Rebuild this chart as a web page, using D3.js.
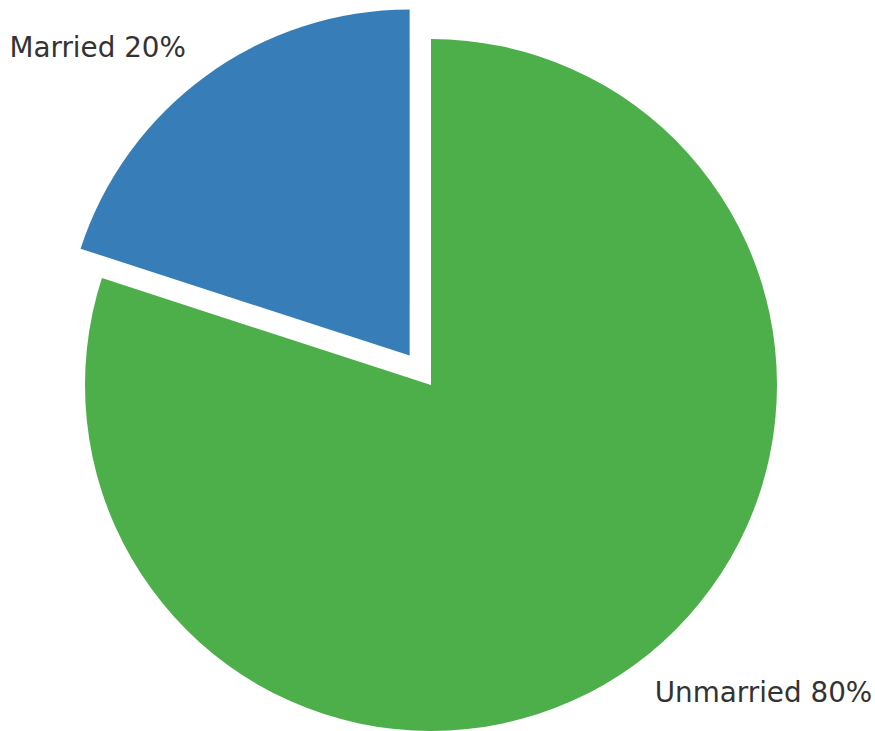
<!DOCTYPE html>
<html>
<head>
<meta charset="utf-8">
<script src="https://cdn.jsdelivr.net/npm/d3@7"></script>
<style>
  html, body { margin: 0; padding: 0; background: #fff; }
  svg { display: block; }
</style>
</head>
<body>
<svg id="chart" width="875" height="731"></svg>
<script>
// Marital status shares
const categories = ["Married", "Unmarried"];
const values = [20, 80];
const colors = ["#377eb8", "#4daf4a"];
const explode = [0.105, 0];

const width = 875, height = 731;
const cx = 431, cy = 385, radius = 346;

const svg = d3.select("#chart");
const g = svg.append("g").attr("transform", `translate(${cx},${cy})`);

// Slices run counter-clockwise from twelve o'clock
const pie = d3.pie().sort(null).startAngle(0).endAngle(-2 * Math.PI);
const arcs = pie(values);
const arc = d3.arc().innerRadius(0).outerRadius(radius);

const slices = g.selectAll("g.slice")
  .data(arcs)
  .join("g")
  .attr("class", "slice")
  .attr("transform", (d, i) => {
    const a = (d.startAngle + d.endAngle) / 2;
    const off = explode[i] * radius;
    return `translate(${off * Math.sin(a)},${-off * Math.cos(a)})`;
  });

slices.append("path")
  .attr("d", arc)
  .attr("fill", (d, i) => colors[i]);

slices.append("text")
  .attr("x", d => 1.1 * radius * Math.sin((d.startAngle + d.endAngle) / 2))
  .attr("y", d => -1.1 * radius * Math.cos((d.startAngle + d.endAngle) / 2))
  .attr("text-anchor", d => Math.sin((d.startAngle + d.endAngle) / 2) < 0 ? "end" : "start")
  .attr("dominant-baseline", "central")
  .attr("font-family", "DejaVu Sans, sans-serif")
  .attr("font-size", 27.8)
  .attr("fill", "#333333")
  .text((d, i) => `${categories[i]} ${values[i]}%`);
</script>
</body>
</html>
